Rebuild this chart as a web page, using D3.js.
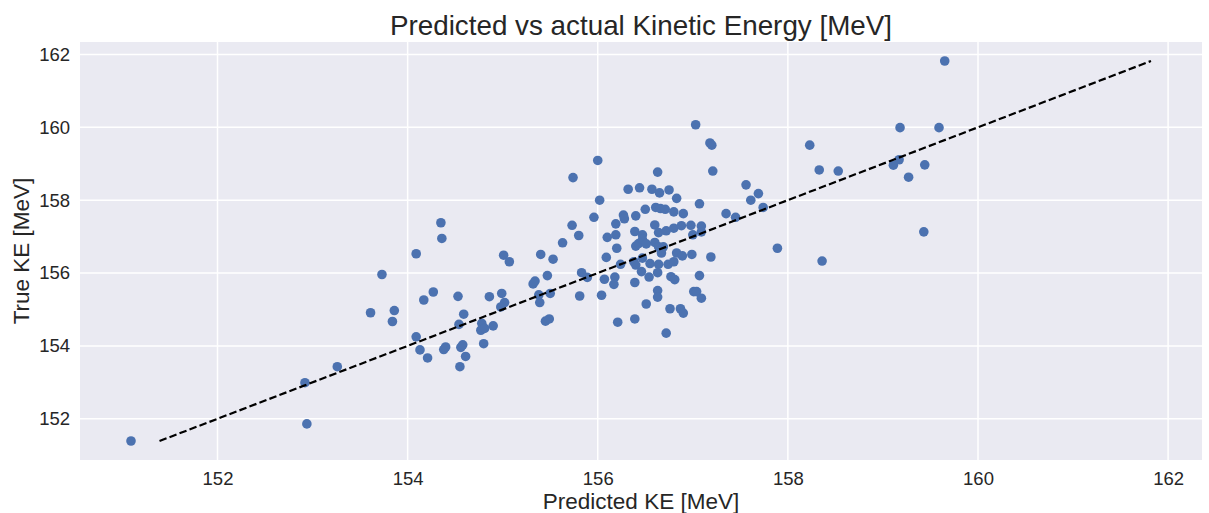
<!DOCTYPE html>
<html>
<head>
<meta charset="utf-8">
<script src="https://cdn.jsdelivr.net/npm/d3@7"></script>
<style>
  body { margin: 0; background: #fff; }
  text { font-family: "Liberation Sans", Arial, sans-serif; fill: #262626; }
</style>
</head>
<body>
<svg id="chart" width="1209" height="513"></svg>
<script>
// predicted vs true kinetic energy, MeV
var predicted = [
  151.09, 152.92, 152.94, 153.26, 153.61, 153.73, 153.86, 153.84, 154.09, 154.35,
  154.36, 154.27, 154.17, 154.53, 154.59, 154.54, 154.09, 154.13, 154.21, 154.38,
  154.40, 154.56, 154.58, 154.61, 154.55, 154.80, 154.78, 154.77, 154.81, 154.90,
  154.86, 154.99, 155.02, 154.98, 155.01, 155.07, 155.32, 155.34, 155.38, 155.50,
  155.39, 155.45, 155.49, 155.40, 155.53, 155.47, 155.63, 155.73, 155.74, 155.80,
  155.83, 155.89, 155.81, 155.96, 156.00, 156.02, 156.04, 156.07, 156.09, 156.10,
  156.19, 156.19, 156.20, 156.18, 156.17, 156.21, 156.24, 156.27, 156.28, 156.32,
  156.38, 156.40, 156.39, 156.39, 156.40, 156.39, 156.40, 156.43, 156.44, 156.47,
  156.47, 156.51, 156.47, 156.46, 156.50, 156.51, 156.55, 156.54, 156.57, 156.60,
  156.60, 156.61, 156.63, 156.63, 156.63, 156.63, 156.64, 156.64, 156.65, 156.64,
  156.66, 156.69, 156.67, 156.72, 156.71, 156.72, 156.74, 156.75, 156.76, 156.77,
  156.80, 156.80, 156.80, 156.81, 156.83, 156.83, 156.87, 156.88, 156.89, 156.90,
  156.90, 156.98, 156.99, 157.00, 157.01, 157.04, 157.03, 157.07, 157.07, 157.09,
  157.09, 157.09, 157.18, 157.20, 157.21, 157.19, 157.35, 157.45, 157.56, 157.61,
  157.69, 157.74, 157.89, 158.23, 158.33, 158.36, 158.53, 159.11, 159.17, 159.18,
  159.27, 159.43, 159.44, 159.59, 159.65
];
var actual = [
  151.39, 152.99, 151.86, 153.43, 154.91, 155.96, 154.97, 154.67, 156.53, 157.38,
  156.95, 155.48, 155.26, 155.36, 154.87, 154.59, 154.25, 153.89, 153.67, 153.90,
  153.97, 153.96, 154.03, 153.71, 153.43, 154.06, 154.62, 154.43, 154.48, 154.55,
  155.35, 155.44, 155.19, 155.07, 156.49, 156.31, 155.70, 155.78, 155.40, 155.44,
  155.19, 154.68, 154.74, 156.51, 156.38, 155.93, 156.83, 157.31, 158.62, 157.03,
  156.01, 155.88, 155.37, 157.53, 159.09, 158.00, 155.39, 155.83, 156.43, 156.98,
  157.05, 157.35, 156.68, 155.89, 155.69, 154.65, 156.24, 157.59, 157.49, 158.30,
  156.31, 156.22, 155.74, 154.74, 157.57, 157.14, 156.74, 156.81, 158.34, 157.05,
  156.92, 156.80, 156.41, 156.04, 157.75, 155.15, 156.26, 155.89, 158.30, 157.32,
  156.84, 157.80, 156.01, 155.52, 155.34, 158.77, 156.24, 157.11, 158.20, 156.72,
  157.77, 156.72, 156.55, 157.16, 157.75, 154.35, 156.24, 158.28, 155.02, 155.90,
  157.68, 156.31, 157.23, 155.82, 158.05, 156.55, 155.02, 157.30, 156.47, 157.63,
  154.90, 157.31, 156.51, 157.05, 155.49, 155.49, 160.07, 157.90, 155.93, 155.31,
  157.29, 157.13, 159.57, 159.51, 158.80, 156.44, 157.63, 157.53, 158.42, 158.00,
  158.18, 157.80, 156.68, 159.51, 158.83, 156.33, 158.80, 158.96, 159.11, 159.99,
  158.63, 157.13, 158.97, 159.99, 161.82
];
var xTicks = [152, 154, 156, 158, 160, 162];
var yTicks = [152, 154, 156, 158, 160, 162];

(function (d3) {
    var svg = d3.select("#chart");
    var margin = {top: 42, right: 7, bottom: 53, left: 80};
    var width = 1209 - margin.left - margin.right;
    var height = 513 - margin.top - margin.bottom;

    // perfect-prediction line spans the range of true values
    var lineLo = d3.min(actual), lineHi = d3.max(actual);

    // matplotlib-style 5% padding around the data
    var padded = function (values) {
        var lo = d3.min(values), hi = d3.max(values);
        var m = (hi - lo) * 0.05;
        return [lo - m, hi + m];
    };

    var x = d3.scaleLinear()
        .domain(padded(predicted.concat([lineLo, lineHi])))
        .range([0, width]);
    var y = d3.scaleLinear()
        .domain(padded(actual.concat([lineLo, lineHi])))
        .range([height, 0]);

    var g = svg.append("g")
        .attr("transform", "translate(" + margin.left + "," + margin.top + ")");

    g.append("rect")
        .attr("width", width)
        .attr("height", height)
        .attr("fill", "#eaeaf2");

    // grid
    g.selectAll("line.vgrid")
        .data(xTicks)
        .enter().append("line")
            .attr("class", "vgrid")
            .attr("x1", function (d) { return x(d); })
            .attr("x2", function (d) { return x(d); })
            .attr("y1", 0)
            .attr("y2", height)
            .attr("stroke", "#fff")
            .attr("stroke-width", 1.5);
    g.selectAll("line.hgrid")
        .data(yTicks)
        .enter().append("line")
            .attr("class", "hgrid")
            .attr("x1", 0)
            .attr("x2", width)
            .attr("y1", function (d) { return y(d); })
            .attr("y2", function (d) { return y(d); })
            .attr("stroke", "#fff")
            .attr("stroke-width", 1.5);

    // axes (labels only, seaborn darkgrid has no spines/ticks)
    var xAxis = g.append("g")
        .attr("transform", "translate(0," + height + ")")
        .call(d3.axisBottom(x).tickValues(xTicks).tickSize(0).tickPadding(12));
    var yAxis = g.append("g")
        .call(d3.axisLeft(y).tickValues(yTicks).tickSize(0).tickPadding(10));
    [xAxis, yAxis].forEach(function (a) {
        a.select(".domain").remove();
        a.selectAll("text")
            .attr("font-size", 18.5)
            .attr("font-family", "Liberation Sans, Arial, sans-serif")
            .attr("fill", "#262626");
    });

    // points
    g.selectAll("circle")
        .data(predicted)
        .enter().append("circle")
            .attr("cx", function (d) { return x(d); })
            .attr("cy", function (d, i) { return y(actual[i]); })
            .attr("r", 4.8)
            .attr("fill", "#4c72b0");

    // y = x reference
    g.append("path")
        .datum([lineLo, lineHi])
        .attr("d", d3.line()
            .x(function (d) { return x(d); })
            .y(function (d) { return y(d); }))
        .attr("fill", "none")
        .attr("stroke", "#000")
        .attr("stroke-width", 2.2)
        .attr("stroke-dasharray", "7.5,3.2");

    // titles
    svg.append("text")
        .attr("x", margin.left + width / 2)
        .attr("y", 35)
        .attr("text-anchor", "middle")
        .attr("font-size", 27.8)
        .text("Predicted vs actual Kinetic Energy [MeV]");
    svg.append("text")
        .attr("x", margin.left + width / 2)
        .attr("y", 509)
        .attr("text-anchor", "middle")
        .attr("font-size", 22.5)
        .text("Predicted KE [MeV]");
    svg.append("text")
        .attr("transform", "translate(29," + (margin.top + height / 2) + ") rotate(-90)")
        .attr("text-anchor", "middle")
        .attr("font-size", 22.5)
        .text("True KE [MeV]");
}).call(this, d3);
</script>
</body>
</html>
